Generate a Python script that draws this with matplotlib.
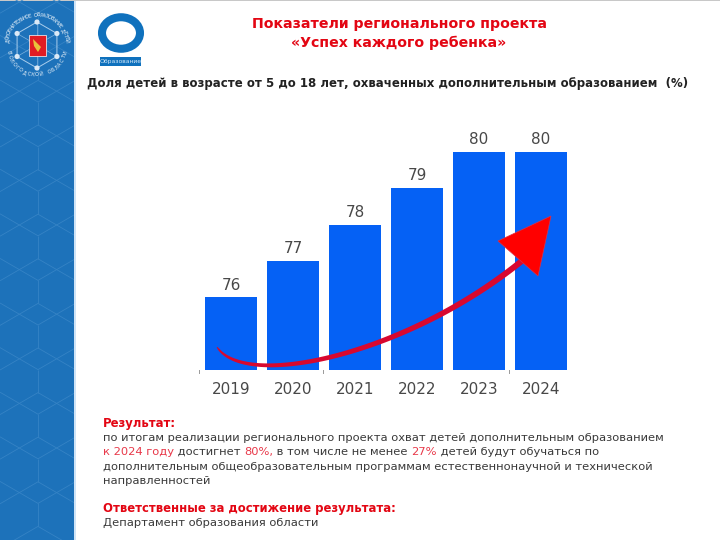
import numpy as np
import matplotlib
matplotlib.use('Agg')
import matplotlib.pyplot as plt
from matplotlib.patches import Circle, Rectangle, Polygon, Ellipse
from matplotlib.collections import LineCollection

years = ['2019', '2020', '2021', '2022', '2023', '2024']
values = [76, 77, 78, 79, 80, 80]

W, H = 720, 540
plt.rcParams['font.family'] = ['DejaVu Sans']
fig = plt.figure(figsize=(7.2, 5.4), dpi=100, facecolor='white')

# pixel overlay for the slide decoration, y goes down like in the picture
bg = fig.add_axes([0, 0, 1, 1], zorder=0)
bg.set_xlim(0, W)
bg.set_ylim(H, 0)
bg.axis('off')

side = Rectangle((0, 0), 74, H, fc='#1d72ba', ec='none')
bg.add_patch(side)
bg.add_patch(Rectangle((74, 0), 2, H, fc='#cfe4f7', ec='none'))
bg.add_patch(Rectangle((0, 0), W, 1, fc='#c8c8c8', ec='none'))

# hexagon pattern on the side bar
segs = []
for k in range(-2, 13):
    y0 = 102 + (k - 3) * 44.6
    segs.append([(38, y0), (38, y0 + 23)])
    segs.append([(0, y0 - 22), (38, y0), (76, y0 - 22)])
    segs.append([(0, y0 + 45), (38, y0 + 23), (76, y0 + 45)])
lc = LineCollection(segs, colors='#3583c5', linewidths=0.6)
bg.add_collection(lc)
lc.set_clip_path(side)

# emblem
ex, ey = 37, 45
top_txt = 'ДОПОЛНИТЕЛЬНОЕ ОБРАЗОВАНИЕ ДЕТЕЙ'
bot_txt = 'ВОЛОГОДСКОЙ ОБЛАСТИ'
for i, ch in enumerate(top_txt):
    a = np.radians(-172 + i * 164 / (len(top_txt) - 1))
    bg.text(ex + 30 * np.cos(a), ey + 30 * np.sin(a), ch, color='#eef5fb', fontsize=3.6,
            rotation=-np.degrees(a) - 90, ha='center', va='center', zorder=3)
for i, ch in enumerate(bot_txt):
    a = np.radians(165 - i * 150 / (len(bot_txt) - 1))
    bg.text(ex + 30 * np.cos(a), ey + 30 * np.sin(a), ch, color='#eef5fb', fontsize=3.6,
            rotation=-np.degrees(a) + 90, ha='center', va='center', zorder=3)
ang = np.radians(np.arange(0, 360, 60) + 30)
hexpts = np.c_[ex + 23 * np.cos(ang), ey + 23 * np.sin(ang)]
bg.add_patch(Polygon(hexpts, closed=True, fc='none', ec='#a9cdec', lw=0.7, zorder=3))
for hx, hy in hexpts:
    bg.plot([ex, hx], [ey, hy], color='#7fb3df', lw=0.5, zorder=3)
    bg.add_patch(Circle((hx, hy), 2.6, fc='#dbe9f6', ec='none', zorder=4))
bg.add_patch(Rectangle((ex - 8, ey - 10.5), 17, 21, fc='#e01c24', ec='white', lw=0.5, zorder=4))
bg.add_patch(Polygon([(ex - 4, ey - 6), (ex + 4, ey + 2), (ex + 1, ey + 7), (ex - 3, ey + 1)], fc='#e9c23a', ec='none', zorder=5))

# project logo
bg.add_patch(Ellipse((121, 33), 38, 31.5, fc='none', ec='#0f71bd', lw=5.8))
bg.add_patch(Rectangle((100, 57), 41, 9, fc='#0f71bd', ec='none'))
bg.text(120.5, 61.5, 'Образование', color='#cfe6f8', fontsize=4.4, ha='center', va='center')

# titles
bg.text(399, 24, 'Показатели регионального проекта', color='#e30613', fontsize=10.2, fontweight='bold', ha='center', va='center')
bg.text(399, 43, '«Успех каждого ребенка»', color='#e30613', fontsize=10.2, fontweight='bold', ha='center', va='center')
bg.text(87, 83, 'Доля детей в возрасте от 5 до 18 лет, охваченных дополнительным образованием  (%)',
        color='#222222', fontsize=8.5, fontweight='bold', ha='left', va='center')

# bar chart
ax = fig.add_axes([195 / W, 1 - 370 / H, 381 / W, 240 / H], zorder=1)
ax.patch.set_alpha(0)
pos = np.arange(len(years))
ax.bar(pos, values, width=0.83, color='#0561f5')
ax.set_xlim(-0.58, 5.565)
ax.set_ylim(74, 80.6)
ax.set_xticks(pos)
ax.set_xticklabels(years, fontsize=11, color='#484848')
ax.tick_params(axis='x', length=0, pad=9)
ax.set_yticks([])
for s in ax.spines.values():
    s.set_visible(False)
for x, v in zip(pos, values):
    ax.text(x, v + 0.13, str(v), ha='center', va='bottom', fontsize=11, color='#484848')

# tick marks on the base line
for tx in [199, 323, 509]:
    bg.plot([tx, tx], [370, 373], color='#999999', lw=0.7)

# red arrow over the bars
top = fig.add_axes([0, 0, 1, 1], zorder=2)
top.set_xlim(0, W)
top.set_ylim(H, 0)
top.axis('off')
t = np.linspace(0, 1, 80)
p0, p1, p2, p3 = np.array([217, 347]), np.array([245, 390]), np.array([405, 356]), np.array([523, 260])
curve = ((1 - t)**3)[:, None] * p0 + (3 * t * (1 - t)**2)[:, None] * p1 + (3 * t**2 * (1 - t))[:, None] * p2 + (t**3)[:, None] * p3
d = np.gradient(curve, axis=0)
n = np.c_[-d[:, 1], d[:, 0]] / np.hypot(d[:, 0], d[:, 1])[:, None]
wid = 0.3 + 2.7 * t**0.4
top.add_patch(Polygon(np.r_[curve + n * wid[:, None], (curve - n * wid[:, None])[::-1]], fc='#d8082f', ec='none'))
top.add_patch(Polygon([(551, 216), (498, 241), (538, 276)], fc='#ff0000', ec='#d8324a', lw=0.5))

# text block below the chart, runs of one line can differ in colour
def runs(x, y, parts, size=8.24):
    rend = fig.canvas.get_renderer()
    for s, c, w in parts:
        tt = bg.text(x, y, s, color=c, fontsize=size, fontweight=w, ha='left', va='center')
        x += tt.get_window_extent(rend).width

grey = '#3a3a3a'
red = '#e8394a'
runs(103, 424, [('Результат:', '#e30613', 'bold')], 8.4)
runs(103, 438, [('по итогам реализации регионального проекта охват детей дополнительным образованием', grey, 'normal')])
runs(103, 452, [('к 2024 году', red, 'normal'), (' достигнет ', grey, 'normal'), ('80%,', red, 'normal'),
                (' в том числе не менее ', grey, 'normal'), ('27%', red, 'normal'),
                (' детей будут обучаться по', grey, 'normal')])
runs(103, 466.5, [('дополнительным общеобразовательным программам естественнонаучной и технической', grey, 'normal')])
runs(103, 480.5, [('направленностей', grey, 'normal')])
runs(103, 508.5, [('Ответственные за достижение результата:', '#e30613', 'bold')], 8.4)
runs(103, 523, [('Департамент образования области', grey, 'normal')])

fig.savefig('out.png', dpi=100)
